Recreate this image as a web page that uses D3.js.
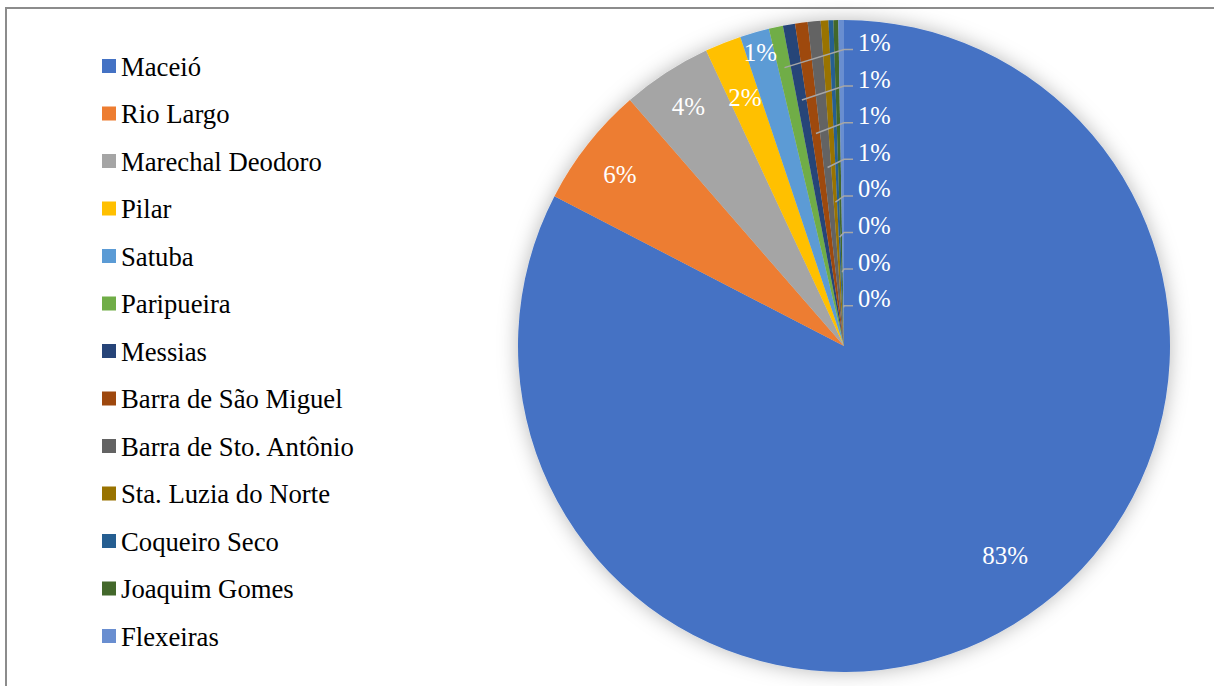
<!DOCTYPE html>
<html>
<head>
<meta charset="utf-8">
<script src="https://cdn.jsdelivr.net/npm/d3@7"></script>
<style>
  html, body { margin: 0; padding: 0; background: #fff; }
  svg { display: block; }
  text { font-family: "Liberation Serif", "Times New Roman", Times, serif; }
</style>
</head>
<body>
<svg id="chart" width="1214" height="686"></svg>
<script>
// Municipalities and their share (%) of the total
const categories = [
  "Maceió", "Rio Largo", "Marechal Deodoro", "Pilar", "Satuba", "Paripueira",
  "Messias", "Barra de São Miguel", "Barra de Sto. Antônio", "Sta. Luzia do Norte",
  "Coqueiro Seco", "Joaquim Gomes", "Flexeiras"
];
const shares = [82.6, 6.0, 4.45, 1.8, 1.45, 0.7, 0.6, 0.62, 0.64, 0.38, 0.24, 0.24, 0.28];
const colors = [
  "#4472C4", "#ED7D31", "#A5A5A5", "#FFC000", "#5B9BD5", "#70AD47",
  "#264478", "#9E480E", "#636363", "#997300", "#255E91", "#43682B", "#698ED0"
];
// Slices whose labels sit outside with leader lines
const outsideLabels = ["Paripueira", "Messias", "Barra de São Miguel", "Barra de Sto. Antônio",
  "Sta. Luzia do Norte", "Coqueiro Seco", "Joaquim Gomes", "Flexeiras"];

const data = categories.map((name, i) => ({ name, value: shares[i], color: colors[i] }));
const total = d3.sum(shares);
const pct = v => Math.round(v / total * 100) + "%";

const svg = d3.select("#chart");

// chart frame
svg.append("rect")
  .attr("x", 6).attr("y", 8).attr("width", 1220).attr("height", 700)
  .attr("fill", "none").attr("stroke", "#8c8c8c").attr("stroke-width", 2);

// soft glow under the pie
const defs = svg.append("defs");
const f = defs.append("filter").attr("id", "glow")
  .attr("x", "-20%").attr("y", "-20%").attr("width", "140%").attr("height", "140%");
f.append("feDropShadow").attr("dx", 0).attr("dy", 0).attr("stdDeviation", 10)
  .attr("flood-color", "#000").attr("flood-opacity", 0.28);

const cx = 844, cy = 346, R = 326;
const g = svg.append("g").attr("transform", `translate(${cx},${cy})`);

const pie = d3.pie().sort(null).value(d => d.value);
const arcs = pie(data);
const arc = d3.arc().innerRadius(0).outerRadius(R);

const slices = g.append("g").attr("filter", "url(#glow)");
slices.selectAll("path").data(arcs).join("path")
  .attr("d", arc)
  .attr("fill", d => d.data.color);

// inside labels: radius as a fraction of R, plus an angular nudge in degrees
const insidePlace = {
  "Maceió": { r: 0.81, da: -6.3 },
  "Rio Largo": { r: 0.865, da: -0.8 },
  "Marechal Deodoro": { r: 0.875, da: 0 },
  "Pilar": { r: 0.82, da: 0 },
  "Satuba": { r: 0.935, da: 0 }
};
const inside = arcs.filter(a => !outsideLabels.includes(a.data.name));
g.selectAll("text.in").data(inside).join("text")
  .attr("class", "in")
  .attr("transform", d => {
    const p = insidePlace[d.data.name] || { r: 0.87, da: 0 };
    const a = (d.startAngle + d.endAngle) / 2 + p.da * Math.PI / 180;
    const r = R * p.r;
    return `translate(${r * Math.sin(a)},${-r * Math.cos(a)})`;
  })
  .attr("text-anchor", "middle")
  .attr("dy", "0.34em")
  .attr("fill", "#fff")
  .attr("font-size", 25)
  .text(d => pct(d.data.value));

// outside labels with leader lines
const outside = arcs.filter(a => outsideLabels.includes(a.data.name));
const labelX = 14, firstBase = 51 - cy, step = 36.6;
outside.forEach((d, i) => {
  const base = firstBase + i * step;
  const lineY = base - 1.5;
  const a = (d.startAngle + d.endAngle) / 2;
  const r = 0.96 * (-lineY);
  const px = r * Math.sin(a), py = -r * Math.cos(a);
  g.append("polyline")
    .attr("points", [[px, py], [labelX - 14, lineY], [labelX - 5, lineY]].map(p => p.join(",")).join(" "))
    .attr("fill", "none")
    .attr("stroke", "#a6a6a6")
    .attr("stroke-width", 1.5);
  g.append("text")
    .attr("x", labelX).attr("y", base)
    .attr("fill", "#fff")
    .attr("font-size", 24.5)
    .text(pct(d.data.value));
});

// legend
const legend = svg.append("g");
const rowStep = 47.5;
const rows = legend.selectAll("g").data(data).join("g")
  .attr("transform", (d, i) => `translate(102,${59 + i * rowStep})`);
rows.append("rect").attr("width", 14).attr("height", 14).attr("fill", d => d.color);
rows.append("text")
  .attr("x", 19).attr("y", 16.5)
  .attr("font-size", 26.7)
  .attr("fill", "#000")
  .text(d => d.name);
</script>
</body>
</html>
